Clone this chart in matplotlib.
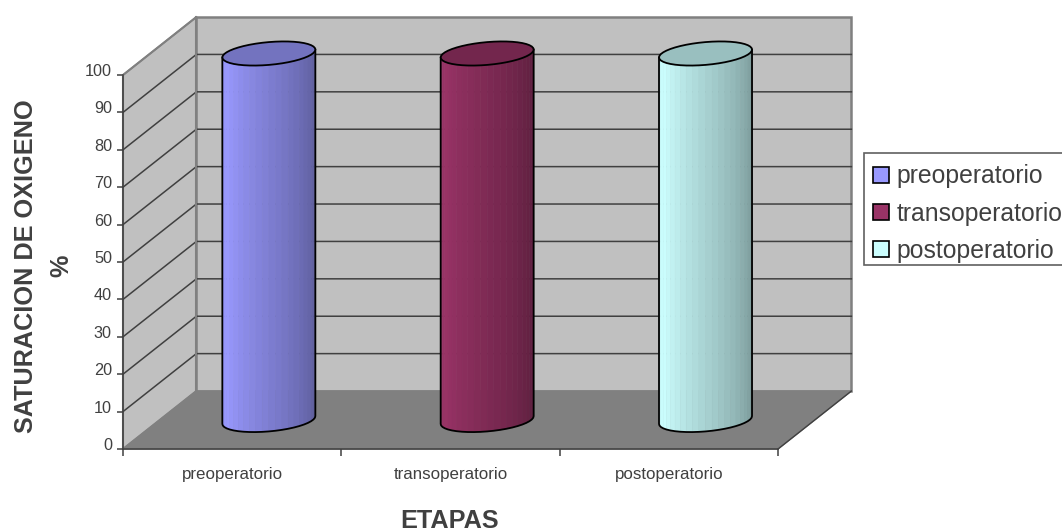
import matplotlib
matplotlib.use('Agg')
import matplotlib.pyplot as plt
import matplotlib.transforms as mtransforms
import numpy as np
from matplotlib.patches import Patch, Rectangle

categories = ['preoperatorio', 'transoperatorio', 'postoperatorio']
values = [98, 98, 98]
colors = ['#9999FF', '#993366', '#CCFFFF']
y_ticks = list(range(0, 101, 10))

plt.rcParams['font.family'] = ['Liberation Sans']
text_color = '#404040'

W, H = 1062, 531
fig = plt.figure(figsize=(W / 100, H / 100), dpi=100)
ax = fig.add_axes([123 / W, (H - 449) / H, 655 / W, 374 / H])
ax.set_xlim(0, 3)
ax.set_ylim(0, 100)
ax.patch.set_visible(False)

# oblique depth of the 3d box, in data units
dx = 0.336
dy = 15.5

# walls and floor
ax.fill([0, 0, dx, dx], [0, 100, 100 + dy, dy], fc='#C0C0C0', ec='#808080', lw=1.5, clip_on=False, zorder=1)
ax.fill([dx, dx, 3 + dx, 3 + dx], [dy, 100 + dy, 100 + dy, dy], fc='#C0C0C0', ec='#808080', lw=1.8, clip_on=False, zorder=1)
ax.fill([0, 3, 3 + dx, dx], [0, 0, dy, dy], fc='#808080', ec='#808080', lw=1, clip_on=False, zorder=1)
ax.plot([3, 3 + dx], [0, dy], color='#404040', lw=1, clip_on=False, zorder=2)

# gridlines run along the left wall and the back wall
for v in y_ticks[1:-1]:
    ax.plot([0, dx, 3 + dx], [v, v + dy, v + dy], color='#404040', lw=1.1, clip_on=False, zorder=2)
ax.plot([0, dx], [100, 100 + dy], color='#808080', lw=1.2, clip_on=False, zorder=2)
ax.plot([dx, dx], [dy, 100 + dy], color='#808080', lw=1.5, clip_on=False, zorder=2)

# cylinders, one shaded strip at a time
half_w = 0.213
ry = 3.05
slant = 1.05
n_strips = 22
shade_pos = [0, 0.14, 1]
shade_val = [0.93, 1.0, 0.58]


def shaded(color, f):
    rgb = np.array(matplotlib.colors.to_rgb(color))
    return tuple(rgb * f)


for i, (val, col) in enumerate(zip(values, colors)):
    cx = i + 0.5 + dx / 2
    base = dy / 2
    t = np.linspace(np.pi, 0, n_strips + 1)
    xs = cx + half_w * np.cos(t)
    low_b = base - ry * np.sin(t) + slant * np.cos(t)
    low_t = low_b + val
    up_t = base + val + ry * np.sin(t) + slant * np.cos(t)
    for j in range(n_strips):
        f = np.interp((j + 0.5) / n_strips, shade_pos, shade_val)
        c = shaded(col, f)
        ax.fill([xs[j], xs[j + 1], xs[j + 1], xs[j]],
                [low_b[j], low_b[j + 1], low_t[j + 1], low_t[j]],
                fc=c, ec=c, lw=0.4, clip_on=False, zorder=3)
    # body outline and top cap
    ax.plot(np.r_[xs[0], xs, xs[-1]], np.r_[low_t[0], low_b, low_t[-1]],
            color='black', lw=1.3, clip_on=False, zorder=4)
    ax.fill(np.r_[xs, xs[::-1]], np.r_[up_t, low_t[::-1]], fc=shaded(col, 0.75),
            ec='black', lw=1.3, clip_on=False, zorder=4)

# axes
for side in ['top', 'right']:
    ax.spines[side].set_visible(False)
for side in ['left', 'bottom']:
    ax.spines[side].set_color('#404040')
    ax.spines[side].set_linewidth(1.1)
    ax.spines[side].set_zorder(5)

ax.set_yticks(y_ticks)
ax.tick_params(axis='y', length=4, width=1.1, color='#404040', labelcolor=text_color, labelsize=11.7, pad=4)
# y labels sit a little above their ticks
up = mtransforms.ScaledTranslation(0, 5 / 100, fig.dpi_scale_trans)
for lab in ax.get_yticklabels():
    lab.set_transform(lab.get_transform() + up)

ax.set_xticks([0, 1, 2, 3])
ax.set_xticklabels([])
ax.tick_params(axis='x', which='major', length=5, width=1.1, color='#404040')
ax.set_xticks([0.5, 1.5, 2.5], minor=True)
ax.set_xticklabels(categories, minor=True)
ax.tick_params(axis='x', which='minor', length=0, labelcolor=text_color, labelsize=12.2, pad=13)

ax.set_ylabel('SATURACION DE OXIGENO\n%', fontsize=18.2, fontweight='bold', color=text_color, linespacing=1.58)
ax.yaxis.set_label_coords(-0.076, 0.49)
ax.set_xlabel('ETAPAS', fontsize=18.2, fontweight='bold', color=text_color)
ax.xaxis.set_label_coords(0.498, -0.16)

# legend box runs off the right edge of the figure
fig.add_artist(Rectangle((864 / W, (H - 265) / H), 210 / W, 112 / H, transform=fig.transFigure,
                         fc='white', ec='#606060', lw=1.2))
handles = [Patch(fc=c, ec='black', lw=1.2) for c in colors]
leg = fig.legend(handles, categories, loc='upper left', bbox_to_anchor=(864 / W, (H - 155) / H),
                 bbox_transform=fig.transFigure, fontsize=17.8, frameon=False,
                 labelcolor=text_color, borderaxespad=0, borderpad=0.38,
                 handlelength=0.62, handleheight=0.62, handletextpad=0.3, labelspacing=0.54)

fig.savefig('out.png', dpi=100)
